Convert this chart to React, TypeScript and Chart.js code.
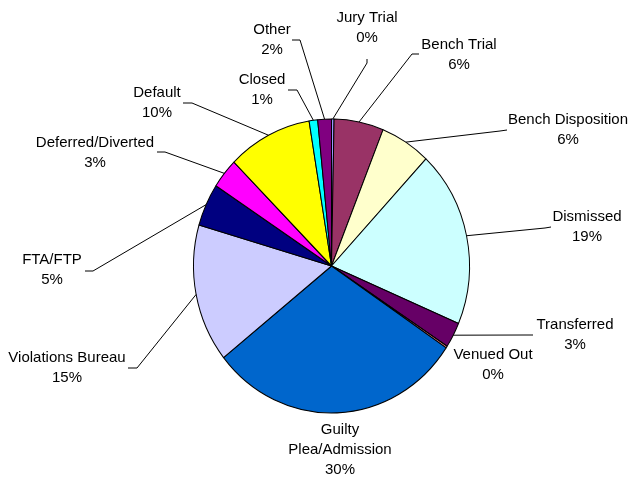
import { useEffect, useRef } from 'react';
import { Chart, registerables } from 'chart.js';

Chart.register(...registerables);

const categories = [
  'Jury Trial',
  'Bench Trial',
  'Bench Disposition',
  'Dismissed',
  'Transferred',
  'Venued Out',
  'Guilty\nPlea/Admission',
  'Violations Bureau',
  'FTA/FTP',
  'Deferred/Diverted',
  'Default',
  'Closed',
  'Other',
];

const values = [0.3, 5.8, 5.9, 19.4, 2.8, 0.2, 29.9, 15.2, 4.7, 3.3, 9.9, 1.0, 1.6];

const colors = [
  '#9999FF',
  '#993366',
  '#FFFFCC',
  '#CCFFFF',
  '#660066',
  '#FF8080',
  '#0066CC',
  '#CCCCFF',
  '#000080',
  '#FF00FF',
  '#FFFF00',
  '#00FFFF',
  '#800080',
];

// Label placement: text centre x, first line centre y, leader elbow and tick end (null = no leader)
const labelLayout: { x: number; y: number; elbow: number[] | null; tick: number[] | null }[] = [
  { x: 367, y: 18, elbow: [367, 63], tick: [367, 59] },
  { x: 459, y: 45, elbow: [412, 54], tick: [419, 54] },
  { x: 568, y: 120, elbow: [500, 131], tick: [507, 130] },
  { x: 587, y: 217, elbow: [545, 228], tick: [551, 227] },
  { x: 575, y: 325, elbow: [525, 335], tick: [533, 335] },
  { x: 493, y: 355, elbow: null, tick: null },
  { x: 340, y: 430, elbow: null, tick: null },
  { x: 67, y: 358, elbow: [137, 368], tick: [128, 368] },
  { x: 52, y: 260, elbow: [93, 271], tick: [85, 271] },
  { x: 95, y: 143, elbow: [165, 152], tick: [157, 152] },
  { x: 157, y: 93, elbow: [192, 103], tick: [183, 103] },
  { x: 262, y: 80, elbow: [297, 90], tick: [288, 90] },
  { x: 272, y: 30, elbow: [300, 40], tick: [292, 40] },
];

const Y_STRETCH = 147 / 138;

const ellipsePlugin = {
  id: 'ellipse',
  beforeDatasetsDraw(chart: any) {
    const arc = chart.getDatasetMeta(0).data[0];
    if (!arc) return;
    const { x, y } = arc.getProps(['x', 'y'], true);
    const ctx = chart.ctx;
    ctx.save();
    ctx.translate(x, y);
    ctx.scale(1, Y_STRETCH);
    ctx.translate(-x, -y);
  },
  afterDatasetsDraw(chart: any) {
    chart.ctx.restore();
  },
};

const labelPlugin = {
  id: 'pieLabels',
  afterDraw(chart: any) {
    const ctx = chart.ctx;
    const meta = chart.getDatasetMeta(0);
    const data = chart.data.datasets[0].data as number[];
    const total = data.reduce((a, b) => a + b, 0);
    ctx.save();
    ctx.strokeStyle = '#000000';
    ctx.lineWidth = 1;
    ctx.fillStyle = '#000000';
    ctx.font = '15px "Liberation Sans", Arial, sans-serif';
    ctx.textAlign = 'center';
    ctx.textBaseline = 'middle';
    meta.data.forEach((arc: any, i: number) => {
      const layout = labelLayout[i];
      if (!layout) return;
      const { x, y, startAngle, endAngle, outerRadius } = arc.getProps(
        ['x', 'y', 'startAngle', 'endAngle', 'outerRadius'],
        true
      );
      const mid = (startAngle + endAngle) / 2;
      const px = x + Math.cos(mid) * outerRadius;
      const py = y + Math.sin(mid) * outerRadius * Y_STRETCH;
      if (layout.elbow && layout.tick) {
        ctx.beginPath();
        ctx.moveTo(px, py);
        ctx.lineTo(layout.elbow[0], layout.elbow[1]);
        ctx.lineTo(layout.tick[0], layout.tick[1]);
        ctx.stroke();
      }
      const lines = String(chart.data.labels[i]).split('\n');
      lines.push(Math.round((data[i] / total) * 100) + '%');
      lines.forEach((t, j) => {
        ctx.fillText(t, layout.x, layout.y + j * 20);
      });
    });
    ctx.restore();
  },
};

export default function App() {
  const ref = useRef<HTMLCanvasElement>(null);
  useEffect(() => {
    if (!ref.current) return;
    const chart = new Chart(ref.current, {
      type: 'pie',
      data: {
        labels: categories,
        datasets: [
          {
            data: values,
            backgroundColor: colors,
            borderColor: '#000000',
            borderWidth: 1,
            radius: 138,
          } as any,
        ],
      },
      options: {
        responsive: false,
        animation: false,
        layout: { padding: { left: 40, right: 8, top: 60, bottom: 8 } },
        plugins: {
          legend: { display: false },
          tooltip: { enabled: false },
        },
      },
      plugins: [ellipsePlugin, labelPlugin],
    });
    return () => chart.destroy();
  }, []);
  return (
    <div style={{ position: 'absolute', left: 0, top: 0, width: 631, height: 480, background: '#FFFFFF' }}>
      <canvas ref={ref} width={631} height={480} />
    </div>
  );
}
